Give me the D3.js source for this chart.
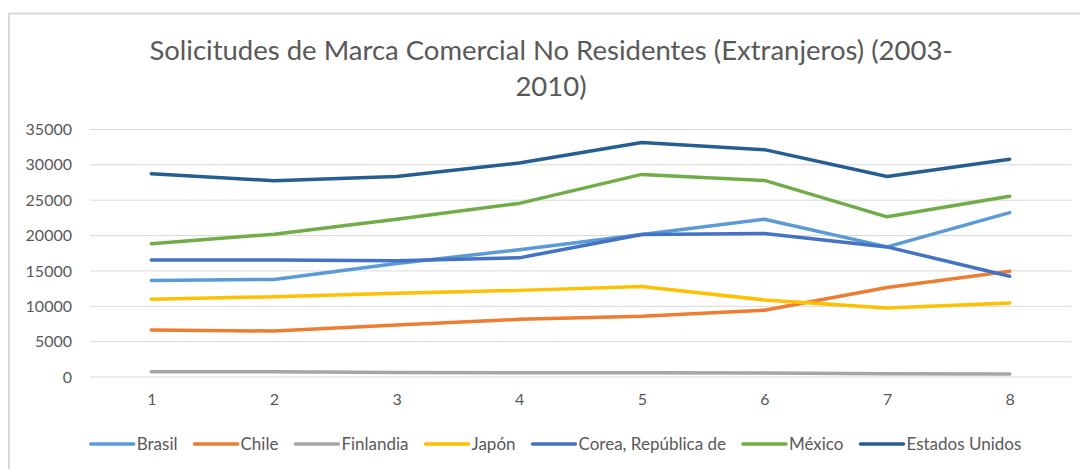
<!DOCTYPE html>
<html>
<head>
<meta charset="utf-8">
<script src="https://cdn.jsdelivr.net/npm/d3@7"></script>
<style>
  body { margin: 0; background: #fff; }
  svg text { font-family: Lato, "Open Sans", sans-serif; fill: #595959; }
</style>
</head>
<body>
<div id="chart"></div>
<script>
"use strict";
(function(){
    // categories on the x axis
    const years = ["1", "2", "3", "4", "5", "6", "7", "8"]
    const yTicks = [0, 5000, 10000, 15000, 20000, 25000, 30000, 35000]

    const seriesNames = ["Brasil", "Chile", "Finlandia", "Japón", "Corea, República de", "México", "Estados Unidos"]

    // values
    const brasil = [13650, 13800, 16050, 18000, 20150, 22300, 18400, 23250]
    const chile = [6650, 6500, 7350, 8150, 8600, 9450, 12650, 14950]
    const finlandia = [750, 740, 620, 600, 600, 580, 470, 430]
    const japon = [11000, 11350, 11850, 12250, 12800, 10900, 9750, 10450]
    const corea = [16550, 16550, 16450, 16850, 20150, 20300, 18400, 14250]
    const mexico = [18850, 20200, 22300, 24550, 28650, 27800, 22650, 25550]
    const estadosUnidos = [28750, 27750, 28350, 30250, 33150, 32150, 28350, 30800]

    const colorList = ["#5B9BD5", "#ED7D31", "#A5A5A5", "#FFC000", "#4472C4", "#70AD47", "#255E91"]

    const allSeries = [brasil, chile, finlandia, japon, corea, mexico, estadosUnidos]

    const measurements = {
        width: 1080,
        height: 469,
        plotLeft: 90,
        plotRight: 1071,
        plotTop: 129.5,
        plotBottom: 377
    }

    let svgContainer = d3.select("#chart").append("svg")
        .attr("width", measurements.width)
        .attr("height", measurements.height)

    // chart area border (top + left only visible)
    svgContainer.append("path")
        .attr("d", "M9,469 V13.5 H1080")
        .attr("fill", "none")
        .attr("stroke", "#d9d9d9")
        .attr("stroke-width", 2)

    // title
    let title = svgContainer.append("text")
        .attr("text-anchor", "middle")
        .style("font-size", "27.5px")
    title.append("tspan").attr("x", 551).attr("y", 60)
        .text("Solicitudes de Marca Comercial No Residentes (Extranjeros) (2003-")
    title.append("tspan").attr("x", 551).attr("y", 96)
        .text("2010)")

    let scaleX = d3.scalePoint()
        .domain(years)
        .range([measurements.plotLeft, measurements.plotRight])
        .padding(0.5)

    let scaleY = d3.scaleLinear()
        .domain([0, 35000])
        .range([measurements.plotBottom, measurements.plotTop])

    // gridlines
    svgContainer.append("g")
        .selectAll("line")
        .data(yTicks)
        .enter().append("line")
        .attr("x1", measurements.plotLeft)
        .attr("x2", measurements.plotRight)
        .attr("y1", d => scaleY(d))
        .attr("y2", d => scaleY(d))
        .attr("stroke", "#d9d9d9")
        .attr("stroke-width", 1)

    // y axis labels
    let yAxis = d3.axisLeft(scaleY).tickValues(yTicks).tickSize(0).tickPadding(0).tickFormat(d3.format("d"))
    let gy = svgContainer.append("g")
        .attr("transform", "translate(72,0)")
        .call(yAxis)
    gy.select(".domain").remove()
    gy.selectAll("text").style("font-size", "16px").attr("fill", "#595959")

    // x axis labels
    let xAxis = d3.axisBottom(scaleX).tickSize(0).tickPadding(0)
    let gx = svgContainer.append("g")
        .attr("transform", "translate(0,394)")
        .call(xAxis)
    gx.select(".domain").remove()
    gx.selectAll("text").style("font-size", "16px").attr("fill", "#595959")

    // lines
    const line = d3.line()
        .x((d, i) => scaleX(years[i]))
        .y(d => scaleY(d))

    svgContainer.append("g")
        .selectAll("path")
        .data(allSeries)
        .enter().append("path")
        .attr("d", line)
        .attr("fill", "none")
        .attr("stroke", (d, i) => colorList[i])
        .attr("stroke-width", 3.5)
        .attr("stroke-linecap", "round")
        .attr("stroke-linejoin", "round")

    // legend
    let legend = svgContainer.append("g")
    let items = legend.selectAll("g")
        .data(seriesNames)
        .enter().append("g")
    items.append("line")
        .attr("x1", 0).attr("x2", 43)
        .attr("y1", 0).attr("y2", 0)
        .attr("stroke", (d, i) => colorList[i])
        .attr("stroke-width", 3.5)
        .attr("stroke-linecap", "round")
    items.append("text")
        .attr("x", 46)
        .attr("y", 6)
        .style("font-size", "17px")
        .text(d => d)

    let xPos = 0
    items.each(function() {
        let w = d3.select(this).select("text").node().getComputedTextLength()
        d3.select(this).attr("transform", "translate(" + xPos + ",0)")
        xPos += 46 + w + 17
    })
    let totalW = xPos - 17
    legend.attr("transform", "translate(" + (556 - totalW / 2) + ",444)")
})()
</script>
</body>
</html>
